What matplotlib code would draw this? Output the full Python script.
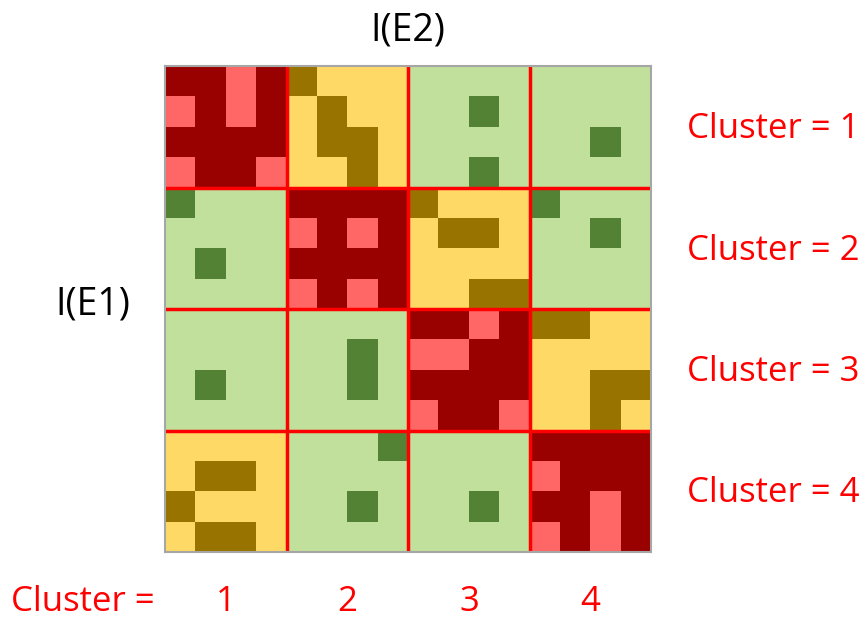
import numpy as np
import matplotlib
matplotlib.use("Agg")
import matplotlib.pyplot as plt
from matplotlib.colors import ListedColormap

# block type per 4x4 block: 0 = red, 1 = yellow, 2 = green
block_types = [
    [0, 1, 2, 2],
    [2, 0, 1, 2],
    [2, 2, 0, 1],
    [1, 2, 2, 0],
]

# accent cells (1 = darker/lighter accent within the block colour)
accent = [
    [0, 0, 1, 0,  1, 0, 0, 0,  0, 0, 0, 0,  0, 0, 0, 0],
    [1, 0, 1, 0,  0, 1, 0, 0,  0, 0, 1, 0,  0, 0, 0, 0],
    [0, 0, 0, 0,  0, 1, 1, 0,  0, 0, 0, 0,  0, 0, 1, 0],
    [1, 0, 0, 1,  0, 0, 1, 0,  0, 0, 1, 0,  0, 0, 0, 0],

    [1, 0, 0, 0,  0, 0, 0, 0,  1, 0, 0, 0,  1, 0, 0, 0],
    [0, 0, 0, 0,  1, 0, 1, 0,  0, 1, 1, 0,  0, 0, 1, 0],
    [0, 1, 0, 0,  0, 0, 0, 0,  0, 0, 0, 0,  0, 0, 0, 0],
    [0, 0, 0, 0,  1, 0, 1, 0,  0, 0, 1, 1,  0, 0, 0, 0],

    [0, 0, 0, 0,  0, 0, 0, 0,  0, 0, 1, 0,  1, 1, 0, 0],
    [0, 0, 0, 0,  0, 0, 1, 0,  1, 1, 0, 0,  0, 0, 0, 0],
    [0, 1, 0, 0,  0, 0, 1, 0,  0, 0, 0, 0,  0, 0, 1, 1],
    [0, 0, 0, 0,  0, 0, 0, 0,  1, 0, 0, 1,  0, 0, 1, 0],

    [0, 0, 0, 0,  0, 0, 0, 1,  0, 0, 0, 0,  0, 0, 0, 0],
    [0, 1, 1, 0,  0, 0, 0, 0,  0, 0, 0, 0,  1, 0, 0, 0],
    [1, 0, 0, 0,  0, 0, 1, 0,  0, 0, 1, 0,  0, 0, 1, 0],
    [0, 1, 1, 0,  0, 0, 0, 0,  0, 0, 0, 0,  1, 0, 1, 0],
]

cluster_labels = ["1", "2", "3", "4"]

# base / accent colour for each block type
palette = [
    "#990000", "#FF6666",   # red block
    "#FFD966", "#997300",   # yellow block
    "#C0E09B", "#548235",   # green block
]

W, H = 868, 619
types = np.kron(np.array(block_types), np.ones((4, 4), dtype=int))
idx = types * 2 + np.array(accent)

fig = plt.figure(figsize=(W / 100, H / 100), dpi=100)
ax = fig.add_axes([165 / W, (H - 552) / H, 486 / W, 486 / H])
ax.imshow(idx, cmap=ListedColormap(palette), vmin=-0.5, vmax=5.5,
          interpolation="nearest", aspect="auto")

for k in (3.5, 7.5, 11.5):
    ax.axhline(k, color="#FF0000", lw=2.5)
    ax.axvline(k, color="#FF0000", lw=2.5)

ax.set_xticks([])
ax.set_yticks([])
for s in ax.spines.values():
    s.set_color("#A6A6A6")
    s.set_linewidth(1.5)

font = "Open Sans"


def px_text(x, y, s, **kw):
    # place text by pixel coordinates measured from the top-left corner
    fig.text(x / W, 1 - y / H, s, family=font, va="baseline", **kw)


px_text(408, 41, "I(E2)", fontsize=27, ha="center")
px_text(93, 314, "I(E1)", fontsize=27, ha="center")

for i, lab in enumerate(cluster_labels):
    px_text(687, 138 + i * 121.5, "Cluster = " + lab, color="#FF0000",
            fontsize=25, ha="left")
    px_text(226 + i * 121.5, 611, lab, color="#FF0000", fontsize=25,
            ha="center")

px_text(11, 611, "Cluster =", color="#FF0000", fontsize=25, ha="left")

fig.savefig("out.png", dpi=100)
